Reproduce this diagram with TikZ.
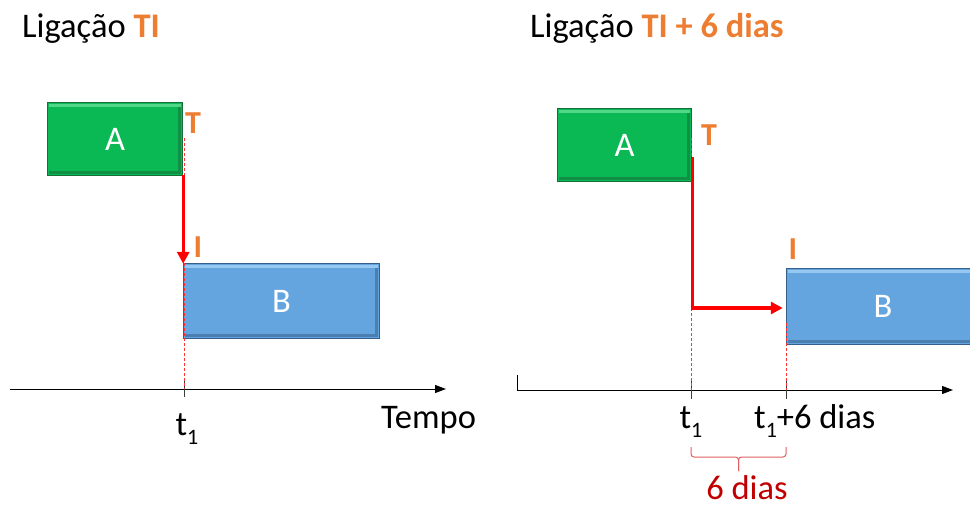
\documentclass[tikz,border=0pt]{standalone}
\usepackage{fontspec}
\setmainfont{Carlito}
\usetikzlibrary{arrows.meta,calc}
\definecolor{grn}{RGB}{10,184,84}
\definecolor{grnd}{RGB}{22,110,58}
\definecolor{grnl}{RGB}{80,215,135}
\definecolor{blu}{RGB}{100,165,224}
\definecolor{blud}{RGB}{55,95,140}
\definecolor{blul}{RGB}{150,200,242}
\definecolor{org}{RGB}{237,125,49}
\definecolor{dred}{RGB}{192,0,0}
\definecolor{brc}{RGB}{222,95,95}
\definecolor{tick}{RGB}{60,60,60}
\newcommand\bevelbox[4]{%
  \fill[#2] ([xshift=1,yshift=-1]#1.north west) rectangle ([xshift=-1,yshift=-4]#1.north east);
  \fill[#3, opacity=0.55] ([xshift=1,yshift=4]#1.south west) rectangle ([xshift=-1,yshift=1]#1.south east);
  \fill[#3, opacity=0.55] ([xshift=-4,yshift=-4]#1.north east) rectangle ([xshift=-1,yshift=4]#1.south east);
  \draw[#3, line width=0.8] (#1.north west) rectangle (#1.south east);
  \node[boxtext] at (#1.center) {#4};
}
\begin{document}
\begin{tikzpicture}[x=1pt,y=-1pt,
  box/.style={minimum height=72, inner sep=0},
  boxtext/.style={text=white, font=\fontsize{34.5}{34.5}\selectfont},
  gbox/.style={box, fill=grn},
  bbox/.style={box, fill=blu},
  title/.style={anchor=base west, inner sep=0, font=\fontsize{34.5}{34.5}\selectfont},
  lab/.style={inner sep=0, font=\fontsize{34.5}{34.5}\selectfont},
  ti/.style={inner sep=0, text=org, font=\bfseries\fontsize{32}{32}\selectfont},
  axis/.style={line width=1, -{Triangle[length=11pt,width=8pt]}},
  tickl/.style={draw=tick, line width=1},
  guide/.style={draw=red!80!white, line width=0.7, dash pattern=on 3pt off 2pt},
  link/.style={draw=red, line width=3.2, -{Triangle[length=12pt,width=12pt]}},
  brace/.style={draw=brc, line width=1, rounded corners=3}]
\useasboundingbox (0,0) rectangle (970,506);

% titles
\node[title] (T1) at (22,37) {Ligação \textcolor{org}{\bfseries TI}};
\node[title] (T2) at (530,37) {Ligação \textcolor{org}{\bfseries TI + 6 dias}};

% ---------- left panel ----------
\node[gbox, minimum width=134] (A1) at (115,139) {};
\node[bbox, minimum width=195, minimum height=74] (B1) at (281.5,301) {};
\bevelbox{A1}{grnl}{grnd}{A}
\bevelbox{B1}{blul}{blud}{B}

\coordinate (ax1s) at (10,389);
\coordinate (ax1e) at (446,389);
\coordinate (tk1) at (184,389);
\draw[axis] (ax1s) -- (ax1e);
\draw[tickl] ($(tk1)+(0,-8)$) -- ($(tk1)+(0,8)$);
\draw[guide] (184,138) -- (tk1);

\node[ti, anchor=base] (Tl) at (193,133) {T};
\node[ti, anchor=base] (Il) at (198,257) {I};
\draw[link] ($(A1.south east)+(1,0)$) -- ($(A1.south east |- B1.north)+(1,0)$);

\node[lab, anchor=base] (t1l) at (187,435) {t\raisebox{-9pt}{\fontsize{22}{22}\selectfont 1}};
\node[lab, anchor=base west] (tempo) at (381,428) {Tempo};

% ---------- right panel ----------
\node[gbox, minimum width=133] (A2) at (624.5,145) {};
\node[bbox, minimum width=192, minimum height=75] (B2) at (883,306.5) {};
\bevelbox{A2}{grnl}{grnd}{A}
\bevelbox{B2}{blul}{blud}{B}

\coordinate (ax2c) at (517,375);
\coordinate (ax2s) at (517,390);
\coordinate (ax2e) at (953,390);
\coordinate (tk2) at (691,390);
\coordinate (tk3) at (786,390);
\draw[axis] (ax2c) -- (ax2s) -- (ax2e);
\draw[tickl] ($(tk2)+(0,-9)$) -- ($(tk2)+(0,9)$);
\draw[tickl] ($(tk3)+(0,-9)$) -- ($(tk3)+(0,9)$);
\draw[guide] (691,138) -- (tk2);
\draw[guide] (786,323) -- (tk3);

\node[ti, anchor=base] (Tr) at (709,145) {T};
\node[ti, anchor=base] (Ir) at (793,259) {I};
\draw[link] ($(A2.east)+(1.5,12)$) |- ($(B2.west)+(-4,1.5)$);

\node[lab, anchor=base] (t1r) at (691,428) {t\raisebox{-9pt}{\fontsize{22}{22}\selectfont 1}};
\node[lab, anchor=base west] (t6) at (754,428) {t\raisebox{-9pt}{\fontsize{22}{22}\selectfont 1}+6 dias};

\coordinate (bl) at (691,447);
\coordinate (br) at (786,447);
\coordinate (bm) at (738.5,471);
\draw[brace] (bl) -- ($(bl)+(0,10)$) -| (bm);
\draw[brace] (br) -- ($(br)+(0,10)$) -| (bm);
\node[lab, anchor=base, text=dred] (six) at (747,499) {6 dias};
\end{tikzpicture}
\end{document}
